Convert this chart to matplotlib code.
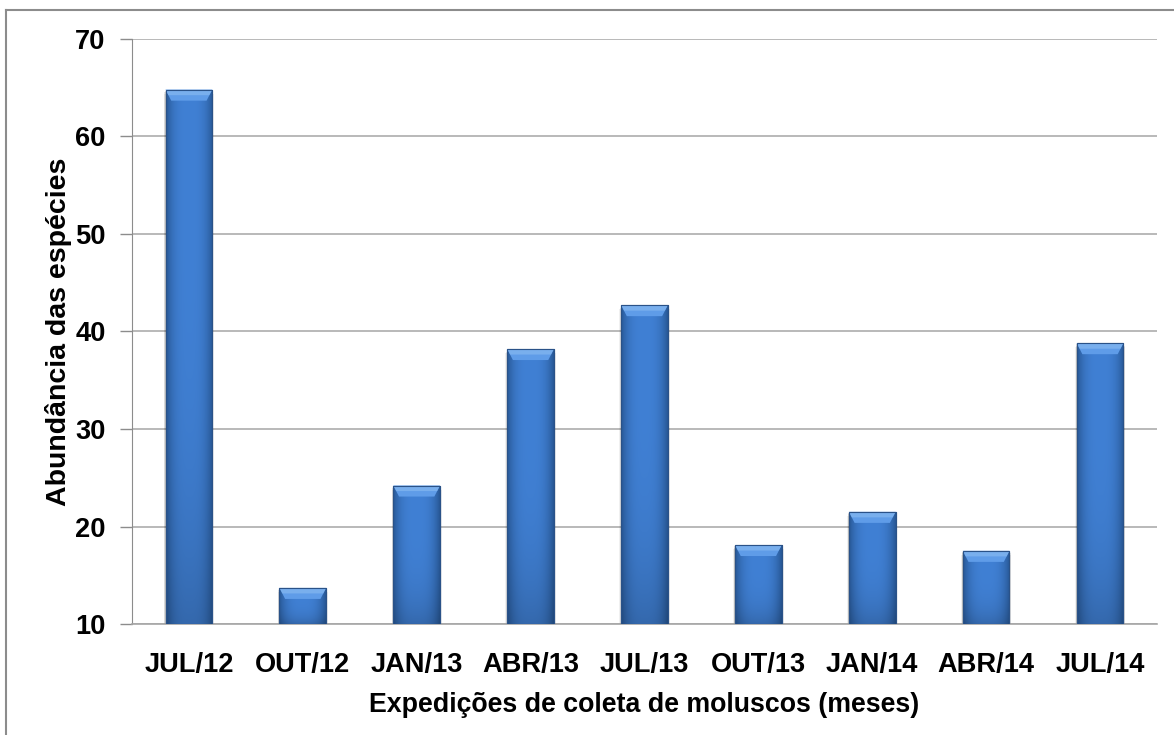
import numpy as np
import matplotlib
matplotlib.use("Agg")
import matplotlib.pyplot as plt
from matplotlib.patches import Polygon, Rectangle
from matplotlib.lines import Line2D

plt.rcParams['font.family'] = ['Liberation Sans', 'DejaVu Sans']
plt.rcParams['font.weight'] = 'bold'

meses = ['JUL/12', 'OUT/12', 'JAN/13', 'ABR/13', 'JUL/13',
         'OUT/13', 'JAN/14', 'ABR/14', 'JUL/14']
abundancia = [64.8, 13.7, 24.2, 38.2, 42.7, 18.1, 21.5, 17.5, 38.8]
yticks = [10, 20, 30, 40, 50, 60, 70]

fig = plt.figure(figsize=(11.74, 7.35), dpi=100)
ax = fig.add_axes([0.1124, 0.151, 0.8731, 0.796])

# moldura externa: so topo e esquerda aparecem
bx = 6 / 1174
by = 1 - 10 / 735
fig.add_artist(Line2D([bx, 1.0], [by, by], transform=fig.transFigure,
                      color='#8c8c8c', linewidth=1.5))
fig.add_artist(Line2D([bx, bx], [0.0, by], transform=fig.transFigure,
                      color='#8c8c8c', linewidth=1.5))

x = np.arange(len(meses))
w = 0.41
base = 10

# gradiente horizontal (escuro nas bordas, claro no meio)
t = np.linspace(-1, 1, 64)
edge = np.array([40, 88, 150]) / 255.0
mid = np.array([64, 128, 212]) / 255.0
f = (1 - np.abs(t) ** 3)[:, None]
row = edge + (mid - edge) * f
v = np.linspace(0, 1, 64)[:, None, None]
dark = 1 - 0.18 * v ** 4
grad = row[None, :, :] * dark

bars = ax.bar(x, [a - base for a in abundancia], width=w, bottom=base,
              color=mid, edgecolor='#2a5288', linewidth=0.8, zorder=3)

px_unit = 585 / 60.0
for b, val in zip(bars, abundancia):
    x0 = b.get_x()
    x1 = x0 + b.get_width()
    # sombra
    for k, al in [(4, 0.06), (2.5, 0.09), (1.2, 0.12)]:
        ax.add_patch(Rectangle((x0 - 0.004 * k, base - k / px_unit),
                               b.get_width() + 0.008 * k, val - base,
                               facecolor='black', alpha=al, linewidth=0,
                               zorder=2))
    im = ax.imshow(grad[::-1], extent=[x0, x1, base, val], aspect='auto',
                   origin='lower', zorder=3.5, interpolation='bilinear')
    im.set_clip_path(b)
    # bisel do topo
    bh = 11 / px_unit
    bi = 0.05
    ax.add_patch(Polygon([(x0, val), (x1, val), (x1 - bi, val - bh),
                          (x0 + bi, val - bh)], closed=True,
                         facecolor='#5f9ce8', edgecolor='none', zorder=4))
    ax.add_patch(Polygon([(x0, val), (x1, val), (x1 - bi * 0.5, val - bh * 0.5),
                          (x0 + bi * 0.5, val - bh * 0.5)], closed=True,
                         facecolor='#8bbcf2', edgecolor='none', alpha=0.6,
                         zorder=4.1))
    ax.add_patch(Rectangle((x0, base), b.get_width(), val - base, fill=False,
                           edgecolor='#2a5288', linewidth=0.8, zorder=4.2))

ax.set_xlim(-0.5, len(meses) - 0.5)
ax.set_ylim(10, 70)
ax.set_yticks(yticks)
ax.set_xticks(x)
ax.set_xticklabels(meses, fontsize=19.6, fontweight='bold')
ax.tick_params(axis='y', labelsize=19.6, length=9, width=1, color='#8c8c8c',
               pad=10)
ax.tick_params(axis='x', length=0, pad=20)
for lab in ax.get_yticklabels():
    lab.set_fontweight('bold')

ax.grid(axis='y', color='#a6a6a6', linewidth=1.1, zorder=0)
ax.set_axisbelow(True)
for s in ['top', 'right']:
    ax.spines[s].set_visible(False)
ax.spines['left'].set_color('#8c8c8c')
ax.spines['bottom'].set_color('#a6a6a6')
ax.spines['bottom'].set_linewidth(1.2)

ax.set_xlabel('Expedições de coleta de moluscos (meses)', fontsize=19.3,
              fontweight='bold', labelpad=10)
ax.set_ylabel('Abundância das espécies', fontsize=20.5, fontweight='bold',
              labelpad=2)

fig.savefig('out.png', dpi=100)
